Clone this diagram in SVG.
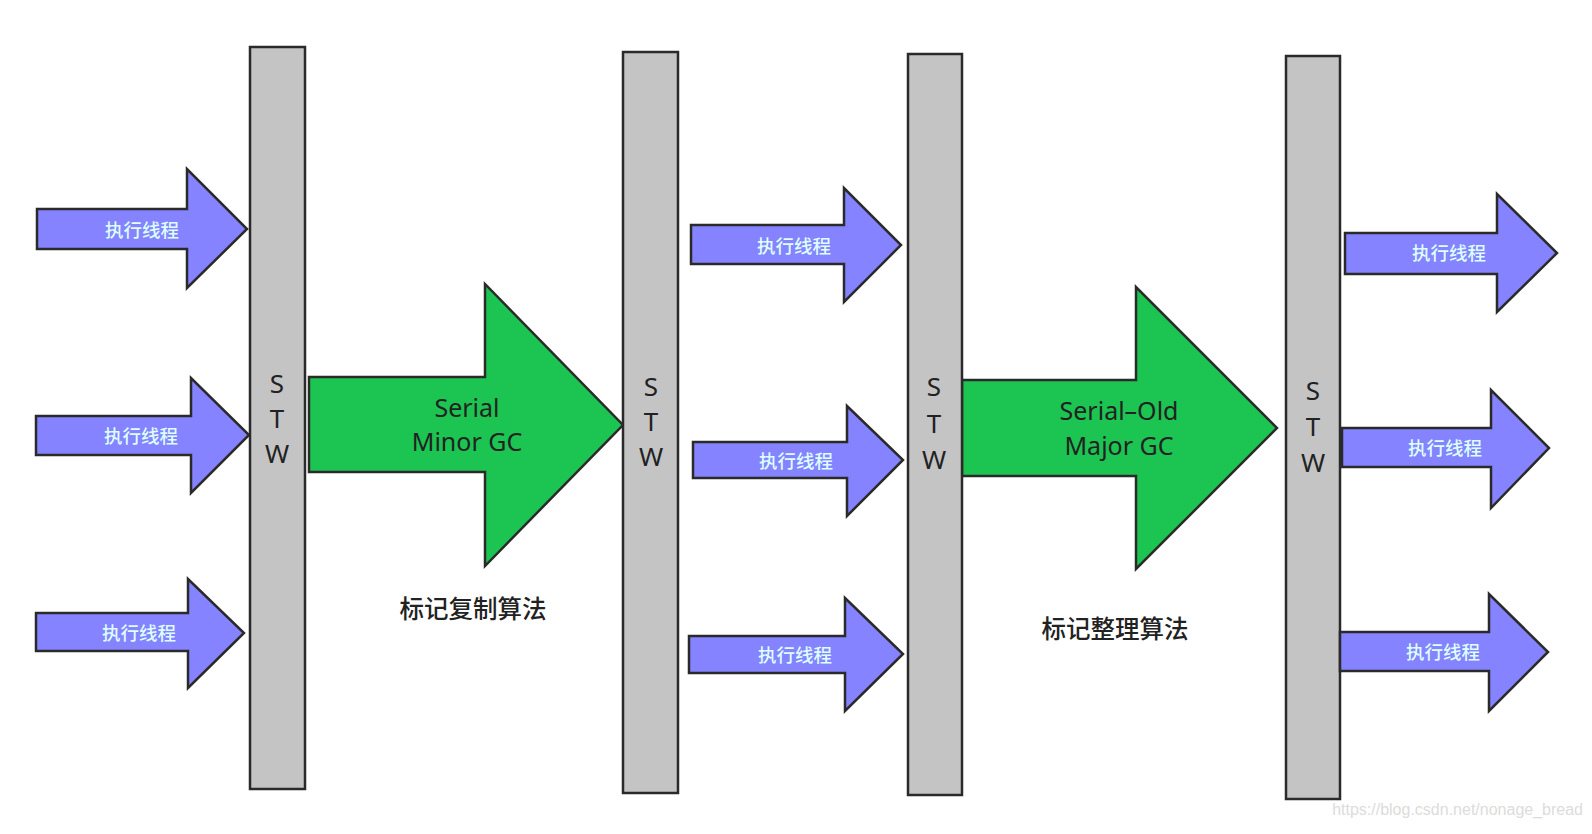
<svg xmlns="http://www.w3.org/2000/svg" width="1592" height="834" viewBox="0 0 1592 834">
<style>
.bar{fill:#c4c4c4;stroke:#2a2a2a;stroke-width:2.5}
.th{fill:#8583ff;stroke:#2a2a2a;stroke-width:2.5;stroke-linejoin:miter}
.gc{fill:#1cc452;stroke:#2a2a2a;stroke-width:2.5}
.tl{font-family:"Noto Sans CJK SC","Noto Sans",sans-serif;font-size:18.5px;font-weight:500;fill:#dcffff;text-anchor:middle;dominant-baseline:central}
.stw{font-family:"Noto Sans","Liberation Sans",sans-serif;font-size:26px;fill:#222;text-anchor:middle}
.gt{font-family:"Noto Sans","Liberation Sans",sans-serif;font-size:25px;fill:#222;text-anchor:middle}
.alg{font-family:"Noto Sans CJK SC",sans-serif;font-size:24.5px;font-weight:500;fill:#222;text-anchor:middle;dominant-baseline:central}
</style>
<rect width="1592" height="834" fill="#fff"/>
<g id="connectors">
<g id="gc1"><polygon class="gc" points="309,377 485,377 485,284 623,425 485,566 485,472 309,472"/><text class="gt" x="467" y="417">Serial</text><text class="gt" x="467" y="451">Minor GC</text></g>
<g id="gc2"><polygon class="gc" points="962,380 1136,380 1136,287 1277,428 1136,569 1136,476 962,476"/><text class="gt" x="1119" y="420">Serial–Old</text><text class="gt" x="1119" y="455">Major GC</text></g>
</g>
<g id="stw1"><rect class="bar" x="250" y="47" width="55" height="742"/><text class="stw" x="277" y="393">S</text><text class="stw" x="277" y="428">T</text><text class="stw" x="277" y="463">W</text></g>
<g id="stw2"><rect class="bar" x="623" y="52" width="55" height="741"/><text class="stw" x="651" y="396">S</text><text class="stw" x="651" y="431">T</text><text class="stw" x="651" y="466">W</text></g>
<g id="stw3"><rect class="bar" x="908" y="54" width="54" height="741"/><text class="stw" x="934" y="396">S</text><text class="stw" x="934" y="433">T</text><text class="stw" x="934" y="469">W</text></g>
<g id="stw4"><rect class="bar" x="1286" y="56" width="54" height="743"/><text class="stw" x="1313" y="400">S</text><text class="stw" x="1313" y="436">T</text><text class="stw" x="1313" y="472">W</text></g>
<g id="t1"><polygon class="th" points="37,209 187,209 187,169 247,229 187,288 187,249 37,249"/><text class="tl" x="142" y="229">执行线程</text></g>
<g id="t2"><polygon class="th" points="36,416 191,416 191,378 249,435 191,493 191,455 36,455"/><text class="tl" x="141" y="435">执行线程</text></g>
<g id="t3"><polygon class="th" points="36,613 188,613 188,579 244,633 188,688 188,651 36,651"/><text class="tl" x="139" y="632">执行线程</text></g>
<g id="t4"><polygon class="th" points="691,225 844,225 844,188 901,245 844,302 844,264 691,264"/><text class="tl" x="794" y="245">执行线程</text></g>
<g id="t5"><polygon class="th" points="693,442 847,442 847,406 903,460 847,516 847,478 693,478"/><text class="tl" x="796" y="460">执行线程</text></g>
<g id="t6"><polygon class="th" points="689,636 845,636 845,598 903,654 845,711 845,673 689,673"/><text class="tl" x="795" y="654">执行线程</text></g>
<g id="t7"><polygon class="th" points="1345,233 1497,233 1497,194 1557,253 1497,312 1497,274 1345,274"/><text class="tl" x="1449" y="252">执行线程</text></g>
<g id="t8"><polygon class="th" points="1342,428 1491,428 1491,390 1549,448 1491,508 1491,467 1342,467"/><text class="tl" x="1445" y="447">执行线程</text></g>
<g id="t9"><polygon class="th" points="1340,632 1489,632 1489,594 1548,652 1489,711 1489,671 1340,671"/><text class="tl" x="1443" y="651">执行线程</text></g>
<text class="alg" x="473" y="607">标记复制算法</text>
<text class="alg" x="1115" y="627">标记整理算法</text>
<text x="1583" y="815" font-family="Liberation Sans,sans-serif" font-size="16" fill="#dcdcdc" text-anchor="end">https://blog.csdn.net/nonage_bread</text>
</svg>
